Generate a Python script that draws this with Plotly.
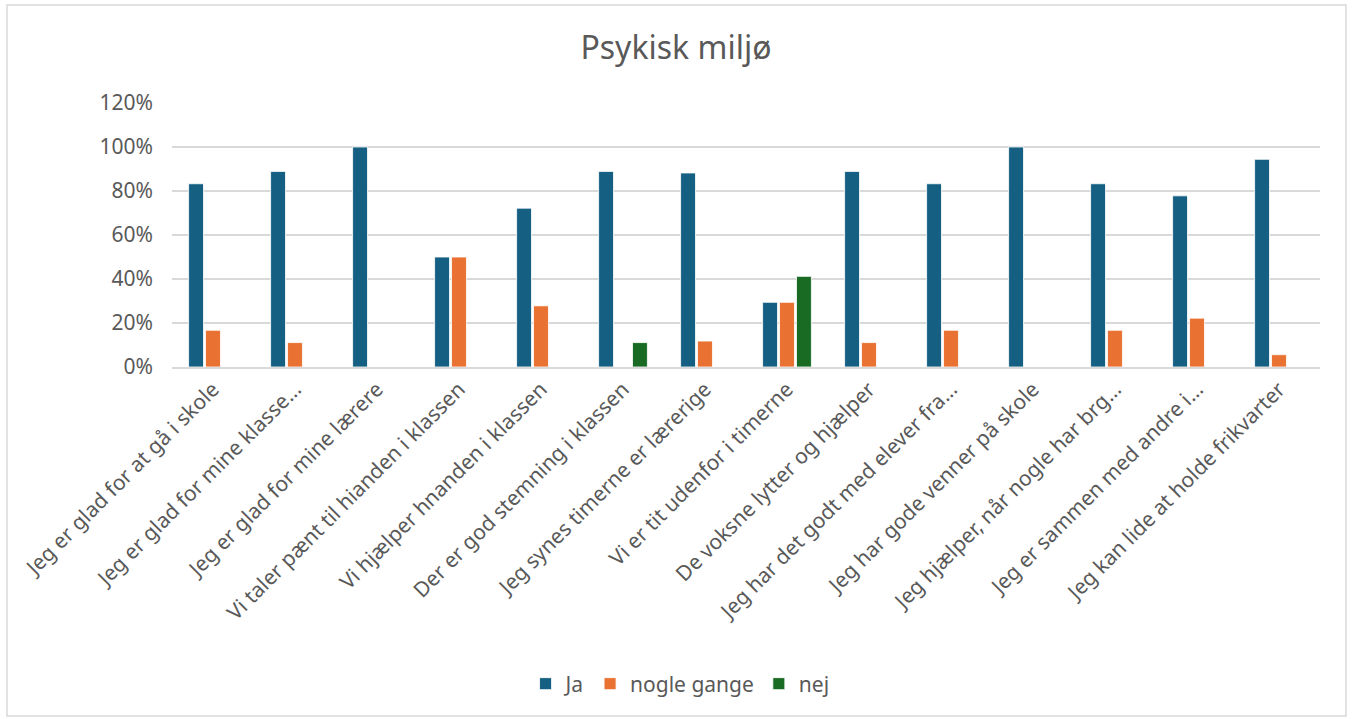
import plotly.graph_objects as go

categories = [
    "Jeg er glad for at gå i skole",
    "Jeg er glad for mine klasse…",
    "Jeg er glad for mine lærere",
    "Vi taler pænt til hianden i klassen",
    "Vi hjælper hnanden i klassen",
    "Der er god stemning i klassen",
    "Jeg synes timerne er lærerige",
    "Vi er tit udenfor i timerne",
    "De voksne lytter og hjælper",
    "Jeg har det godt med elever fra…",
    "Jeg har gode venner på skole",
    "Jeg hjælper, når nogle har brg…",
    "Jeg er sammen med andre i…",
    "Jeg kan lide at holde frikvarter",
]
ja = [0.833, 0.889, 1.0, 0.5, 0.722, 0.889, 0.882, 0.294, 0.889, 0.833, 1.0, 0.833, 0.778, 0.944]
nogle_gange = [0.167, 0.111, None, 0.5, 0.278, None, 0.118, 0.294, 0.111, 0.167, None, 0.167, 0.222, 0.056]
nej = [None, None, None, None, None, 0.111, None, 0.412, None, None, None, None, None, None]

series = [("Ja", ja, "#156082"), ("nogle gange", nogle_gange, "#E97132"), ("nej", nej, "#196B24")]

FONT = "Noto Sans"
GREY = "#595959"

fig = go.Figure()
for name, vals, color in series:
    fig.add_trace(go.Bar(
        x=categories, y=vals, name=name,
        marker=dict(color=color, line=dict(color="rgba(255,255,255,0.8)", width=1)),
    ))

fig.update_layout(
    width=1352, height=719,
    barmode="group", bargap=0.38, bargroupgap=0.12,
    paper_bgcolor="white", plot_bgcolor="white",
    margin=dict(l=172, r=32, t=103, b=352),
    font=dict(family=FONT, size=21, color=GREY),
    title=dict(text="Psykisk miljø", x=0.5, xref="container", xanchor="center",
               y=1 - 48 / 719, yref="container", yanchor="middle",
               font=dict(family=FONT, size=32, color=GREY)),
    legend=dict(orientation="h", x=0.503, xref="container", xanchor="center",
                y=1 - 684 / 719, yref="container", yanchor="middle",
                font=dict(family=FONT, size=21, color=GREY), traceorder="normal"),
    xaxis=dict(tickangle=-45, showgrid=False, showline=True, linecolor="#d9d9d9", linewidth=1.5,
               ticks="", tickfont=dict(family=FONT, size=21, color=GREY)),
    yaxis=dict(range=[0, 1.2], dtick=0.2, tickformat=".0%", showgrid=True, gridcolor="#d9d9d9",
               gridwidth=1.5, zeroline=False, showline=False, ticks="", ticklabelstandoff=18,
               tickfont=dict(family=FONT, size=21, color=GREY)),
    shapes=[dict(type="rect", xref="paper", yref="paper",
                 x0=(7 - 172) / 1148, x1=(1346 - 172) / 1148,
                 y0=(367 - 716) / 264, y1=(367 - 5) / 264,
                 line=dict(color="#d9d9d9", width=1.5), fillcolor="rgba(0,0,0,0)", layer="below")],
)

fig.write_html("out.html", config={"displayModeBar": False},
               post_script="document.body.style.margin='0';")
